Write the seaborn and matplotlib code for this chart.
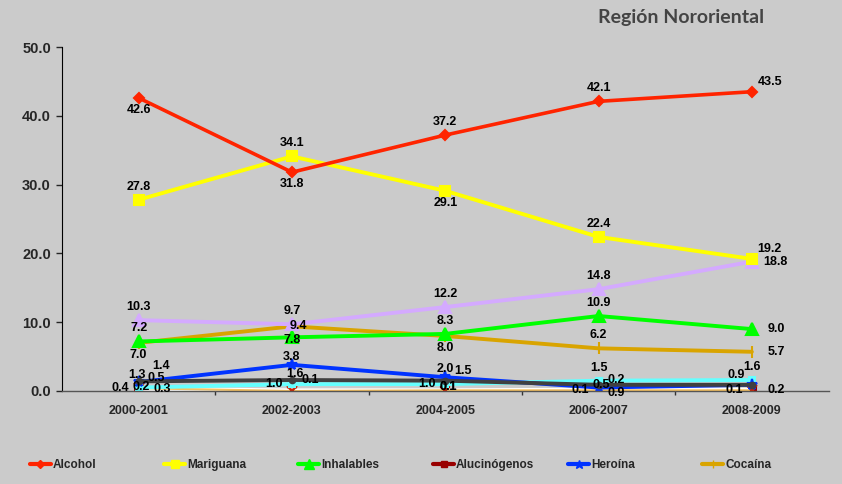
import numpy as np
import matplotlib
matplotlib.use("Agg")
import matplotlib.pyplot as plt
from matplotlib.lines import Line2D
from matplotlib.ticker import FixedLocator, FormatStrFormatter
import seaborn as sns

# ── data (porcentajes por periodo) ────────────────────────────────────────
periodos = ["2000-2001", "2002-2003", "2004-2005", "2006-2007", "2008-2009"]

alcohol        = [42.6, 31.8, 37.2, 42.1, 43.5]
mariguana      = [27.8, 34.1, 29.1, 22.4, 19.2]
tranquilizantes = [10.3, 9.7, 12.2, 14.8, 18.8]
inhalables     = [7.2, 7.8, 8.3, 10.9, 9.0]
cocaina        = [7.0, 9.4, 8.0, 6.2, 5.7]
heroina        = [1.3, 3.8, 2.0, 0.5, 0.9]
anfetaminas    = [1.4, 1.6, 1.5, 0.9, 0.9]
sedantes       = [0.5, 1.0, 1.0, 1.5, 1.6]
crack          = [0.3, 0.1, 0.1, 0.2, 0.2]
otras          = [0.4, 0.0, 0.1, 0.1, 0.1]
alucinogenos   = [0.2, 0.0, 0.0, 0.0, 0.0]

BG = "#CBCBCB"
FONT = "Liberation Sans"

# label placement codes -> pixel offsets
OFF = {"a": (0, 13), "b": (0, -12), "r": (24, 0), "l": (-18, 0),
       "ar": (18, 10), "al": (-16, 10), "br": (18, -8), "c": (3, 3),
       "a7": (-2, 7), "a8": (0, 8), "a6": (3, 6), "ar15": (22, 15),
       "on": (6, 0), "on_b": (0, -3)}

# (values, name, color, marker, marker size, line width, label positions)
series = [
    (alucinogenos, "Alucinógenos", "#990000", "s", 6, 2.8, ["c", "", "", "", ""]),
    (crack, "Crack", "#FFFFFF", None, 0, 2.8, ["r", "ar", "c", "ar", "r"]),
    (otras, "Otras", "#F5C060", "x", 7, 1.5, ["l", "", "c", "l", "l"]),
    (sedantes, "Sedantes", "#66FFFF", "s", 5, 2.8, ["ar", "l", "l", "a", "a"]),
    (heroina, "Heroína", "#0033FF", "*", 8, 2.8, ["a7", "a8", "a8", "c", ""]),
    (anfetaminas, "Anfetaminas", "#404040", "o", 4, 2.8, ["ar15", "a6", "ar", "br", "al"]),
    (cocaina, "Cocaína", "#D9A400", "|", 8, 2.8, ["b", "on", "b", "a", "r"]),
    (inhalables, "Inhalables", "#00FF00", "^", 9, 2.8, ["a", "on_b", "a", "a", "r"]),
    (tranquilizantes, "Tranquilizantes", "#D4AAFF", "^", 9, 2.8, ["a", "a", "a", "a", "r"]),
    (mariguana, "Mariguana", "#FFFF00", "s", 7, 2.8, ["a", "a", "b", "a", "ar"]),
    (alcohol, "Alcohol", "#FF2400", "D", 5, 2.6, ["b", "b", "a", "a", "ar"]),
]
in_legend = ["Alcohol", "Mariguana", "Inhalables", "Alucinógenos", "Heroína", "Cocaína"]

sns.set_style("ticks")
plt.rcParams["font.family"] = [FONT, "DejaVu Sans"]

fig = plt.figure(figsize=(8.42, 4.84), dpi=100, facecolor=BG)
ax = fig.add_axes([62 / 842, 1 - 391 / 484, (828.5 - 62) / 842, (391 - 47) / 484])
ax.set_facecolor(BG)

x = np.arange(len(periodos))
for vals, name, color, marker, ms, lw, pos in series:
    mec = "#CC2200" if marker == "x" else color
    sns.lineplot(x=x, y=vals, ax=ax, color=color, lw=lw, marker=marker,
                 markersize=ms, markeredgecolor=mec, markerfacecolor=mec,
                 markeredgewidth=1.5, legend=False)

# data labels
for vals, name, color, marker, ms, lw, pos in series:
    for xi, v, p in zip(x, vals, pos):
        if not p:
            continue
        ax.annotate(f"{v:.1f}", (xi, v), xytext=OFF[p], textcoords="offset pixels",
                    ha="center", va="center", fontsize=9, fontweight="bold",
                    color="black", zorder=10)

ax.set_xlim(-0.5, len(periodos) - 0.5)
ax.set_ylim(0, 50)
ax.set_yticks(np.arange(0, 51, 10))
ax.yaxis.set_major_formatter(FormatStrFormatter("%.1f"))
ax.set_xticks(x)
ax.set_xticklabels(periodos)
ax.xaxis.set_minor_locator(FixedLocator(x[:-1] + 0.5))
ax.tick_params(axis="x", which="major", length=0, pad=10)
ax.tick_params(axis="x", which="minor", length=3, width=1, color="#333333", direction="out")
ax.tick_params(axis="y", length=4, width=1, pad=4)
for lab in ax.get_xticklabels():
    lab.set_fontsize(9)
    lab.set_fontweight("bold")
for lab in ax.get_yticklabels():
    lab.set_fontsize(10.5)
    lab.set_fontweight("bold")
ax.set_xlabel("")
ax.set_ylabel("")
sns.despine(ax=ax)
ax.spines["left"].set_color("black")
ax.spines["bottom"].set_color("#555555")
ax.spines["bottom"].set_linewidth(1)

# legend: one entry per slot along the bottom
legend_x = [29.5, 164, 298, 433, 568, 702]
lookup = {s[1]: s for s in series}
for lx, name in zip(legend_x, in_legend):
    vals, _, color, marker, ms, lw, _ = lookup[name]
    h = Line2D([], [], color=color, lw=3, marker=marker, markersize=ms * 0.8,
               markeredgecolor=color, markerfacecolor=color, label=name)
    fig.legend(handles=[h], loc="center left", bbox_to_anchor=(lx / 842, 1 - 465 / 484),
               frameon=False, borderpad=0, borderaxespad=0, handlelength=1.8,
               handletextpad=0.15, prop={"family": FONT, "weight": "bold", "size": 8.5})

fig.text(681 / 842, 1 - 17 / 484, "Región Nororiental", ha="center", va="center",
         fontsize=14, fontweight="bold", color="#444444", family="Lato")

fig.savefig("out.png", dpi=100, facecolor=BG)
